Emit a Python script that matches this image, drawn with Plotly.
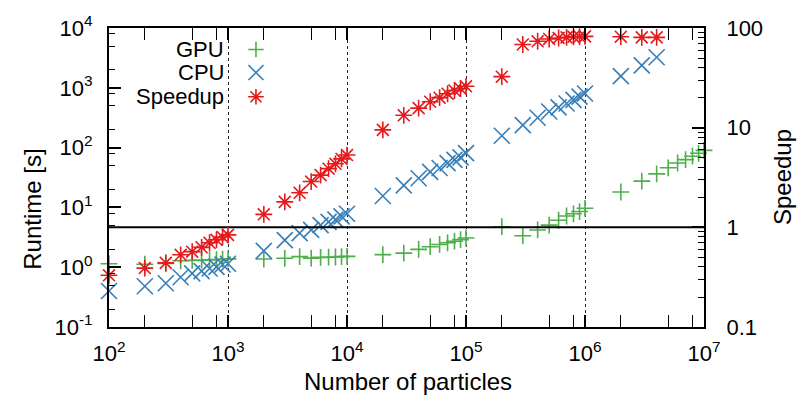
import plotly.graph_objects as go

# ---- data -------------------------------------------------------------
n_particles = [100, 200, 300, 400, 500, 600, 700, 800, 900, 1000,
               2000, 3000, 4000, 5000, 6000, 7000, 8000, 9000, 10000,
               20000, 30000, 40000, 50000, 60000, 70000, 80000, 90000, 100000,
               200000, 300000, 400000, 500000, 600000, 700000, 800000, 900000, 1000000,
               2000000, 3000000, 4000000]
n_particles_gpu = n_particles + [5000000, 6000000, 7000000, 8000000, 9000000, 10000000]

gpu_runtime = [1.14, 1.12, 1.15, 1.28, 1.30, 1.31, 1.33, 1.34, 1.36, 1.38,
               1.37, 1.41, 1.50, 1.42, 1.46, 1.47, 1.48, 1.50, 1.52,
               1.62, 1.72, 1.99, 2.20, 2.40, 2.56, 2.72, 2.89, 3.08,
               4.76, 3.36, 4.20, 5.06, 6.10, 7.18, 7.82, 8.52, 9.66,
               18.1, 27.5, 36.3, 45.9, 55.3, 63.0, 71.8, 80.3, 89.8]

cpu_runtime = [0.40, 0.48, 0.54, 0.68, 0.79, 0.86, 0.95, 1.01, 1.11, 1.14,
               1.88, 2.83, 3.71, 4.20, 5.06, 5.74, 6.26, 7.08, 7.82,
               15.5, 23.3, 30.7, 39.3, 45.6, 54.9, 62.3, 68.6, 80.9,
               158, 238, 316, 402, 471, 547, 628, 710, 803,
               1570, 2366, 3236]

speedup = [0.33, 0.39, 0.44, 0.53, 0.57, 0.63, 0.70, 0.75, 0.80, 0.84,
           1.35, 1.80, 2.22, 2.88, 3.34, 3.88, 4.34, 4.86, 5.31,
           9.5, 13.3, 15.7, 18.2, 20.0, 21.9, 23.6, 24.6, 26.0,
           32.5, 68.3, 73.6, 77.6, 79.4, 80.5, 81.5, 82.0, 82.4,
           81.8, 80.5, 80.5]

series_names = ["GPU", "CPU", "Speedup"]
x_ticks = [1e2, 1e3, 1e4, 1e5, 1e6, 1e7]
x_tick_text = ["10<sup>2</sup>", "10<sup>3</sup>", "10<sup>4</sup>",
               "10<sup>5</sup>", "10<sup>6</sup>", "10<sup>7</sup>"]
y_ticks = [1e-1, 1e0, 1e1, 1e2, 1e3, 1e4]
y_tick_text = ["10<sup>-1</sup>", "10<sup>0</sup>", "10<sup>1</sup>",
               "10<sup>2</sup>", "10<sup>3</sup>", "10<sup>4</sup>"]
y2_ticks = [0.1, 1, 10, 100]
y2_tick_text = ["0.1", "1", "10", "100"]
break_even = 1.0

# ---- style ------------------------------------------------------------
FONT = "Liberation Sans"
FS_TICK = 22
FS_KEY = 22
FS_TEXT = 24
GREEN = "rgb(77,175,74)"
BLUE = "rgb(55,126,184)"
RED = "rgb(228,26,28)"
LW = 1.6

def minor_vals(lo_exp, hi_exp, mults):
    return [m * 10 ** e for e in range(lo_exp, hi_exp) for m in mults]

fig = go.Figure()

# break-even reference line on the speedup axis
fig.add_trace(go.Scatter(x=[x_ticks[0], x_ticks[-1]], y=[break_even, break_even],
                         mode="lines", line=dict(color="black", width=2),
                         yaxis="y2", showlegend=False, hoverinfo="skip"))

marker_styles = [("cross-thin", 12, GREEN), ("x-thin", 16, BLUE), ("asterisk", 14, RED)]

fig.add_trace(go.Scatter(x=n_particles_gpu, y=gpu_runtime, mode="markers", name="GPU",
                         marker=dict(symbol=marker_styles[0][0], size=marker_styles[0][1],
                                     line=dict(color=GREEN, width=LW)),
                         cliponaxis=False, showlegend=False))
fig.add_trace(go.Scatter(x=n_particles, y=cpu_runtime, mode="markers", name="CPU",
                         marker=dict(symbol=marker_styles[1][0], size=marker_styles[1][1],
                                     line=dict(color=BLUE, width=LW)),
                         cliponaxis=False, showlegend=False))
fig.add_trace(go.Scatter(x=n_particles, y=speedup, mode="markers", name="Speedup",
                         yaxis="y2",
                         marker=dict(symbol=marker_styles[2][0], size=marker_styles[2][1],
                                     line=dict(color=RED, width=LW)),
                         cliponaxis=False, showlegend=False))

# key: text right-aligned with the symbol to its right
key_y = [0.928, 0.851, 0.770]
for name, yk, (sym, sz, col) in zip(series_names, key_y, marker_styles):
    fig.add_trace(go.Scatter(x=[0.247], y=[yk], mode="markers", xaxis="x3", yaxis="y3",
                             marker=dict(symbol=sym, size=sz - 1, line=dict(color=col, width=LW)),
                             showlegend=False, hoverinfo="skip", cliponaxis=False))
    fig.add_annotation(x=0.197, y=yk, xref="paper", yref="paper", text=name,
                       showarrow=False, xanchor="right", yanchor="middle",
                       font=dict(family=FONT, size=FS_KEY, color="black"))

# axis titles
fig.add_annotation(x=0.5025, y=-0.181, xref="paper", yref="paper", text="Number of particles",
                   showarrow=False, xanchor="center", yanchor="middle",
                   font=dict(family=FONT, size=FS_TEXT, color="black"))
fig.add_annotation(x=-0.128, y=0.395, xref="paper", yref="paper", text="Runtime [s]",
                   showarrow=False, textangle=-90, xanchor="center", yanchor="middle",
                   font=dict(family=FONT, size=FS_TEXT, color="black"))
fig.add_annotation(x=1.133, y=0.502, xref="paper", yref="paper", text="Speedup",
                   showarrow=False, textangle=-90, xanchor="center", yanchor="middle",
                   font=dict(family=FONT, size=FS_TEXT, color="black"))

tick_font = dict(family=FONT, size=FS_TICK, color="black")

fig.update_layout(
    width=797, height=407,
    margin=dict(l=109, r=93, t=18, b=80),
    plot_bgcolor="white", paper_bgcolor="white",
    font=dict(family=FONT, size=FS_TICK, color="black"),
    xaxis=dict(type="log", range=[2, 7], tickmode="array", tickvals=x_ticks,
               ticktext=x_tick_text, tickfont=tick_font,
               ticks="inside", ticklen=12, tickwidth=1.5, tickcolor="black",
               showline=True, linecolor="black", linewidth=2, mirror="allticks",
               showgrid=True, gridcolor="rgba(0,0,0,0.85)", gridwidth=1.3, griddash="dot",
               zeroline=False, ticklabelstandoff=6,
               minor=dict(tickmode="array", tickvals=minor_vals(2, 7, [2, 5, 8]),
                          ticks="inside", ticklen=6, tickwidth=1.3, tickcolor="black",
                          showgrid=False)),
    yaxis=dict(type="log", range=[-1, 4], tickmode="array", tickvals=y_ticks,
               ticktext=y_tick_text, tickfont=tick_font,
               ticks="inside", ticklen=12, tickwidth=1.5, tickcolor="black",
               showline=True, linecolor="black", linewidth=2, mirror=False,
               showgrid=False, zeroline=False, ticklabelstandoff=10,
               minor=dict(tickmode="array", tickvals=minor_vals(-1, 4, [2, 5, 8]),
                          ticks="inside", ticklen=6, tickwidth=1.3, tickcolor="black",
                          showgrid=False)),
    yaxis2=dict(type="log", range=[-1, 2], overlaying="y", side="right",
                tickmode="array", tickvals=y2_ticks, ticktext=y2_tick_text,
                tickfont=tick_font,
                ticks="inside", ticklen=12, tickwidth=1.5, tickcolor="black",
                showline=True, linecolor="black", linewidth=2,
                showgrid=False, zeroline=False, ticklabelstandoff=16,
                minor=dict(tickmode="array",
                           tickvals=minor_vals(-1, 2, [2, 3, 4, 5, 6, 7, 8, 9]),
                           ticks="inside", ticklen=6, tickwidth=1.3, tickcolor="black",
                           showgrid=False)),
    xaxis3=dict(overlaying="x", range=[0, 1], visible=False),
    yaxis3=dict(overlaying="y", range=[0, 1], visible=False),
)

fig.write_html("out.html")
